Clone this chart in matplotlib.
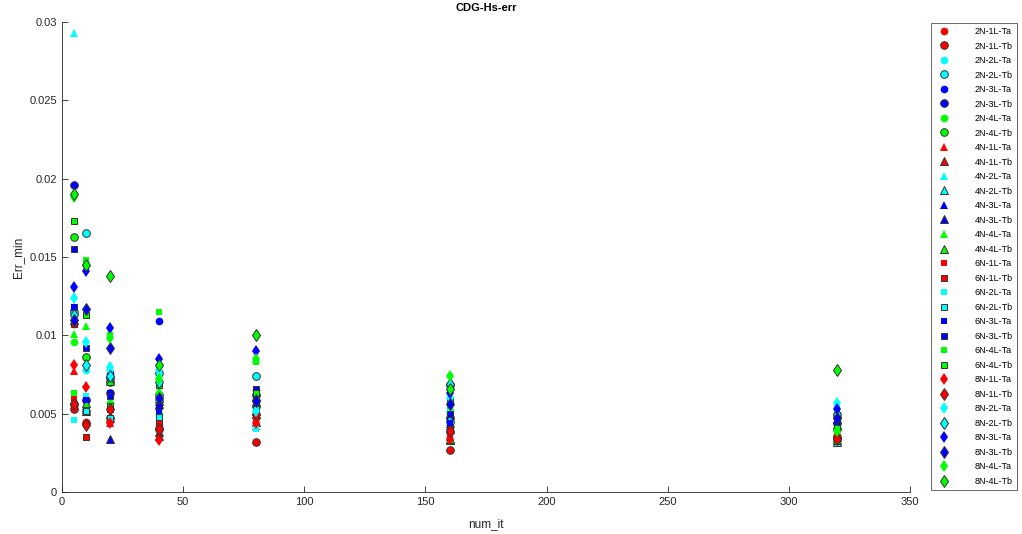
import matplotlib
matplotlib.use("Agg")
import matplotlib.pyplot as plt
from matplotlib.ticker import FuncFormatter

plt.rcParams['font.family'] = ['Liberation Sans', 'DejaVu Sans']

num_it = [5, 10, 20, 40, 80, 160, 320]
layers = ["1L", "2L", "3L", "4L"]
layer_colors = ["#ff0000", "#00ffff", "#0000ff", "#00ff00"]
groups = ["2N", "4N", "6N", "8N"]
group_markers = ["o", "^", "s", "d"]
marker_sizes = [5.5, 5.5, 4.8, 6.2]

# rows: 1L-Ta, 1L-Tb, 2L-Ta, 2L-Tb, 3L-Ta, 3L-Tb, 4L-Ta, 4L-Tb
err_2N = [
    [0.0055, 0.0045, 0.0053, 0.0042, 0.0047, 0.0038, 0.0034],
    [0.0053, 0.0044, 0.0047, 0.0040, 0.0032, 0.0027, 0.0035],
    [0.0115, 0.0078, 0.0075, 0.0062, 0.0055, 0.0045, 0.0042],
    [0.0115, 0.0165, 0.0073, 0.0076, 0.0074, 0.0068, 0.0048],
    [0.0107, 0.0059, 0.0076, 0.0109, 0.0065, 0.0048, 0.0050],
    [0.0196, 0.0059, 0.0063, 0.0058, 0.0062, 0.0047, 0.0044],
    [0.0096, 0.0086, 0.0057, 0.0050, 0.0058, 0.0052, 0.0036],
    [0.0163, 0.0086, 0.0070, 0.0062, 0.0055, 0.0045, 0.0040],
]
err_4N = [
    [0.0077, 0.0045, 0.0044, 0.0035, 0.0042, 0.0035, 0.0033],
    [0.0058, 0.0052, 0.0047, 0.0038, 0.0045, 0.0033, 0.0035],
    [0.0293, 0.0080, 0.0080, 0.0060, 0.0050, 0.0046, 0.0031],
    [0.0110, 0.0053, 0.0073, 0.0058, 0.0052, 0.0044, 0.0032],
    [0.0118, 0.0055, 0.0075, 0.0055, 0.0060, 0.0042, 0.0046],
    [0.0059, 0.0054, 0.0034, 0.0036, 0.0050, 0.0040, 0.0037],
    [0.0101, 0.0106, 0.0071, 0.0065, 0.0085, 0.0052, 0.0034],
    [0.0059, 0.0057, 0.0071, 0.0056, 0.0050, 0.0034, 0.0033],
]
err_6N = [
    [0.0060, 0.0044, 0.0045, 0.0043, 0.0046, 0.0037, 0.0033],
    [0.0107, 0.0035, 0.0053, 0.0045, 0.0057, 0.0040, 0.0035],
    [0.0046, 0.0061, 0.0078, 0.0072, 0.0040, 0.0052, 0.0055],
    [0.0118, 0.0052, 0.0047, 0.0048, 0.0053, 0.0059, 0.0044],
    [0.0118, 0.0059, 0.0063, 0.0052, 0.0062, 0.0044, 0.0045],
    [0.0155, 0.0092, 0.0061, 0.0055, 0.0066, 0.0050, 0.0049],
    [0.0063, 0.0148, 0.0100, 0.0115, 0.0083, 0.0055, 0.0038],
    [0.0173, 0.0113, 0.0055, 0.0068, 0.0063, 0.0058, 0.0041],
]
err_8N = [
    [0.0081, 0.0067, 0.0044, 0.0033, 0.0044, 0.0034, 0.0036],
    [0.0056, 0.0043, 0.0053, 0.0040, 0.0050, 0.0039, 0.0034],
    [0.0124, 0.0096, 0.0080, 0.0078, 0.0052, 0.0060, 0.0057],
    [0.0113, 0.0081, 0.0074, 0.0070, 0.0059, 0.0069, 0.0050],
    [0.0131, 0.0141, 0.0105, 0.0085, 0.0090, 0.0063, 0.0053],
    [0.0110, 0.0117, 0.0092, 0.0060, 0.0058, 0.0056, 0.0047],
    [0.0188, 0.0145, 0.0098, 0.0072, 0.0085, 0.0074, 0.0039],
    [0.0190, 0.0145, 0.0138, 0.0081, 0.0100, 0.0066, 0.0078],
]
all_err = [err_2N, err_4N, err_6N, err_8N]

fig = plt.figure(figsize=(10.22, 5.34), dpi=100)
ax = fig.add_axes([62 / 1022, 42 / 534, 848 / 1022, 470 / 534])

for g, mk, ms, rows in zip(groups, group_markers, marker_sizes, all_err):
    for i, ys in enumerate(rows):
        lay = layers[i // 2]
        col = layer_colors[i // 2]
        if i % 2 == 0:
            ax.plot(num_it, ys, linestyle="none", marker=mk, markersize=ms,
                    markerfacecolor=col, markeredgecolor=col, markeredgewidth=0,
                    label="%s-%s-Ta" % (g, lay))
        else:
            ax.plot(num_it, ys, linestyle="none", marker=mk, markersize=ms,
                    markerfacecolor=col, markeredgecolor="#333333", markeredgewidth=0.7,
                    label="%s-%s-Tb" % (g, lay))

ax.set_xlim(0, 350)
ax.set_ylim(0, 0.03)
ax.set_xticks(range(0, 351, 50))
ax.set_yticks([0, 0.005, 0.01, 0.015, 0.02, 0.025, 0.03])
ax.yaxis.set_major_formatter(FuncFormatter(lambda v, p: "%g" % v))
ax.spines["top"].set_visible(False)
ax.spines["right"].set_visible(False)
for s in ["left", "bottom"]:
    ax.spines[s].set_color("#262626")
    ax.spines[s].set_linewidth(0.6)
ax.tick_params(direction="in", length=4, width=0.6, colors="#262626", labelsize=8)

ax.set_title("CDG-Hs-err", fontsize=8, fontweight="bold", pad=8)
ax.set_xlabel("num_it", fontsize=8.5, color="#262626", labelpad=8)
ax.set_ylabel("Err_min", fontsize=8.5, color="#262626")

leg = fig.legend(loc="upper left", bbox_to_anchor=(931 / 1022, 1 - 23 / 534),
                 borderaxespad=0, fontsize=6.5, frameon=True, fancybox=False,
                 edgecolor="#262626", labelspacing=0.61, handletextpad=2.4,
                 borderpad=0.45, handlelength=2.0, numpoints=1)
leg.get_frame().set_linewidth(0.6)

plt.savefig("out.png", dpi=100)
